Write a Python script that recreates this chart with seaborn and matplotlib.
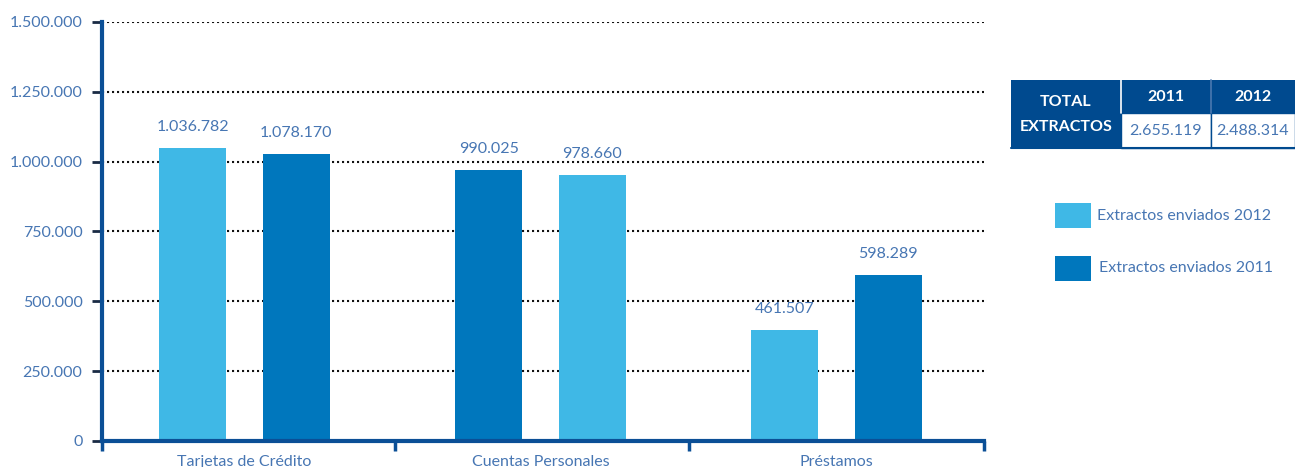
import numpy as np
import pandas as pd
import matplotlib
matplotlib.use('Agg')
import matplotlib.pyplot as plt
import seaborn as sns
from matplotlib.patches import Rectangle
from matplotlib.ticker import FixedLocator, FuncFormatter

# Datos
categorias = ['Tarjetas de Crédito', 'Cuentas Personales', 'Préstamos']
# altura de las barras tal como aparecen dibujadas (primera y segunda barra de cada grupo)
barra_1 = [1050000, 970000, 397000]
barra_2 = [1027000, 952000, 594000]
# etiquetas de cada barra
etiqueta_1 = ['1.036.782', '990.025', '461.507']
etiqueta_2 = ['1.078.170', '978.660', '598.289']
# año de cada barra (define el color)
anio_1 = ['2012', '2011', '2012']
anio_2 = ['2011', '2012', '2011']
y_ticks = [0, 250000, 500000, 750000, 1000000, 1250000, 1500000]
tabla_anios = ['2011', '2012']
tabla_totales = ['2.655.119', '2.488.314']
leyenda = ['Extractos enviados 2012', 'Extractos enviados 2011']

COLOR = {'2012': '#3fb8e6', '2011': '#0077bd'}
NAVY = '#004a8f'
AXIS = '#0b4f96'
TXT = '#4776b3'

sns.set_style('white')
plt.rcParams['font.family'] = ['Lato', 'DejaVu Sans']

df = pd.DataFrame({
    'categoria': categorias * 2,
    'posicion': ['a'] * 3 + ['b'] * 3,
    'valor': barra_1 + barra_2,
    'etiqueta': etiqueta_1 + etiqueta_2,
    'anio': anio_1 + anio_2,
})

fig = plt.figure(figsize=(12.95, 4.67), dpi=100)
ax = fig.add_axes([102 / 1295, 1 - 441 / 467, (984 - 102) / 1295, (441 - 22) / 467])

sns.barplot(data=df, x='categoria', y='valor', hue='posicion', order=categorias,
            hue_order=['a', 'b'], width=0.70, gap=0.354, dodge=True,
            legend=False, ax=ax, zorder=3, saturation=1)

# colorear cada barra segun el año y poner etiquetas
for cont, sub in zip(ax.containers, ['a', 'b']):
    rows = df[df['posicion'] == sub].reset_index(drop=True)
    for bar, (_, r) in zip(cont, rows.iterrows()):
        bar.set_facecolor(COLOR[r['anio']])
        bar.set_edgecolor('none')
        ax.annotate(r['etiqueta'], (bar.get_x() + bar.get_width() / 2, bar.get_height()),
                    xytext=(0, 10), textcoords='offset points', ha='center', va='bottom',
                    fontsize=11.5, color=TXT)

ax.set_ylim(0, 1500000)
ax.set_xlim(-0.481, 2.498)
ax.set_xlabel('')
ax.set_ylabel('')

ax.yaxis.set_major_locator(FixedLocator(y_ticks))
ax.yaxis.set_major_formatter(FuncFormatter(lambda v, p: f'{v:,.0f}'.replace(',', '.')))
ax.tick_params(axis='y', length=7, width=2, color='#1a2a44', labelcolor=TXT,
               labelsize=11.5, pad=7, left=True)
ax.yaxis.grid(True, linestyle=(0, (1, 1.4)), color='#111111', linewidth=1.5, zorder=0)
ax.xaxis.grid(False)
ax.set_axisbelow(True)

# ticks del eje x: separadores entre grupos, etiquetas centradas en categorias
ax.set_xticks([0, 1, 2])
ax.set_xticklabels(categorias)
ax.tick_params(axis='x', length=0, labelcolor=TXT, labelsize=11.5, pad=10)
ax.set_xticks([-0.481, 0.51, 1.5, 2.498], minor=True)
ax.tick_params(axis='x', which='minor', length=7, width=2.5, color=AXIS, bottom=True)

for s in ['top', 'right']:
    ax.spines[s].set_visible(False)
for s in ['left', 'bottom']:
    ax.spines[s].set_color(AXIS)
    ax.spines[s].set_linewidth(3)
    ax.spines[s].set_zorder(5)

# tabla y leyenda en coordenadas de pixel
ov = fig.add_axes([0, 0, 1, 1], zorder=10)
ov.set_xlim(0, 1295)
ov.set_ylim(467, 0)
ov.axis('off')
ov.patch.set_alpha(0)

ov.add_patch(Rectangle((1011, 80), 110, 68, facecolor=NAVY, edgecolor='none'))
cols_x = [1121, 1211]
cols_w = [90, 84]
for cx, cw, anio, tot in zip(cols_x, cols_w, tabla_anios, tabla_totales):
    ov.add_patch(Rectangle((cx, 80), cw, 33, facecolor=NAVY, edgecolor='none'))
    ov.add_patch(Rectangle((cx, 113), cw, 35, facecolor='white', edgecolor=NAVY, linewidth=1))
    ov.text(cx + cw / 2, 97, anio, ha='center', va='center', color='white',
            fontsize=11.5, fontweight='bold')
    ov.text(cx + cw / 2, 131, tot, ha='center', va='center', color=TXT,
            fontsize=11.5)
ov.plot([1121, 1121], [80, 113], color='white', linewidth=1.2)
ov.plot([1211, 1211], [80, 113], color='#4a78b0', linewidth=1.2)
ov.plot([1011, 1295], [148, 148], color=NAVY, linewidth=1.5)
ov.text(1066, 102, 'TOTAL', ha='center', va='center', color='white', fontsize=11.5,
        fontweight='bold')
ov.text(1066, 127, 'EXTRACTOS', ha='center', va='center', color='white', fontsize=11.5,
        fontweight='bold')

for i, (txt, anio) in enumerate(zip(leyenda, ['2012', '2011'])):
    y0 = 203 + i * 53
    ov.add_patch(Rectangle((1055, y0), 36, 25, facecolor=COLOR[anio], edgecolor='none'))
    ov.text(1097 + i * 2, y0 + 12.5, txt, ha='left', va='center', color=TXT,
            fontsize=11.5)

fig.savefig('out.png', dpi=100, facecolor='white')
